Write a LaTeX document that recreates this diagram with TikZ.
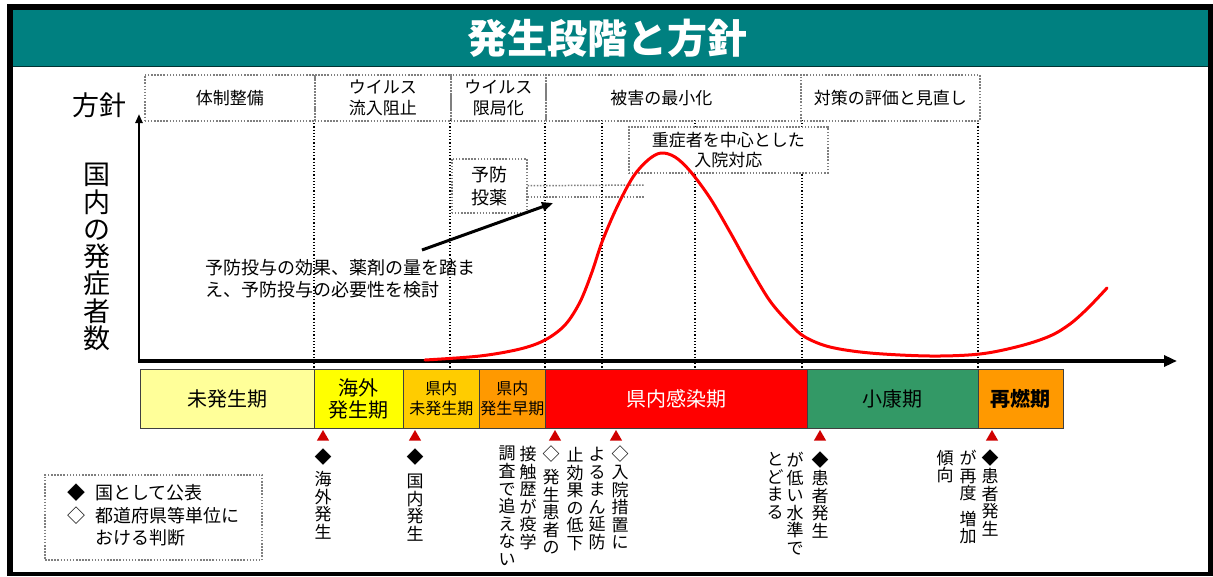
\documentclass[tikz,border=0pt]{standalone}
\usepackage{fontspec}
\setmainfont{Noto Sans CJK JP}
\usetikzlibrary{arrows.meta,shapes.geometric}
\definecolor{tealbar}{HTML}{008080}
\definecolor{phA}{HTML}{FFFF99}
\definecolor{phB}{HTML}{FFFF00}
\definecolor{phC}{HTML}{FFCC00}
\definecolor{phD}{HTML}{FF9900}
\definecolor{phE}{HTML}{FF0000}
\definecolor{phF}{HTML}{339966}
\definecolor{tricol}{HTML}{D00000}
\definecolor{dotgray}{HTML}{7F7F7F}
\begin{document}
\begin{tikzpicture}[x=1pt,y=-1pt,
  dotb/.style={draw=dotgray, dash pattern=on 1.5pt off 1.6pt, line width=1.5},
  pbox/.style={dotb, minimum height=46, inner sep=0, anchor=north west, align=center, font=\fontsize{17}{21}\selectfont},
  phase/.style={draw=black!75, line width=0.8, minimum height=59, inner sep=0, anchor=north west, align=center},
  vline/.style={black, dash pattern=on 1.2pt off 2pt, line width=1.1},
  vtext/.style={anchor=north, inner sep=0, align=center, font=\fontsize{17}{17.6}\selectfont},
  tri/.style={regular polygon, regular polygon sides=3, fill=tricol, minimum size=14, inner sep=0}]
\useasboundingbox (0,0) rectangle (1213,576);
% frame
\fill[black] (7,4) rectangle (1213,576);
\fill[white] (13,10) rectangle (1208,572);
\fill[tealbar] (13,10) rectangle (1208,66);
\draw[black!60!tealbar, line width=1] (13,66) -- (1208,66);
\node[text=white, font=\fontsize{40}{44}\selectfont\bfseries] (title) at (607,38) {発生段階と方針};
% vertical dotted lines
\foreach \vx in {314,450,545,602,695,802,978} {
  \draw[vline] (\vx,120) -- (\vx,368);
}
% policy row
\node[pbox, minimum width=170] (p1) at (144,74) {体制整備};
\node[pbox, minimum width=136] (p2) at (314,74) {ウイルス\\流入阻止};
\node[pbox, minimum width=95] (p3) at (450,74) {ウイルス\\限局化};
\node[pbox, minimum width=255] (p4) at (545,74) {被害の最小化\hspace{24pt}};
\node[pbox, minimum width=179] (p5) at (800,74) {対策の評価と見直し};
\node[font=\fontsize{27}{30}\selectfont, inner sep=0] (hoshin) at (99,105) {方針};
% axes
\coordinate (org) at (139,361);
\coordinate (ytop) at (139,114);
\coordinate (xend) at (1177,361);
\draw[line width=2.5, -{Triangle[length=9pt,width=7pt]}] (org) -- (ytop);
\draw[line width=3.2, -{Triangle[length=13pt,width=11pt]}] ([xshift=-1.2pt]org) -- (xend);
\node[align=center, inner sep=0, font=\fontsize{27}{27.3}\selectfont] (ylab) at (97,257) {国\\内\\の\\発\\症\\者\\数};
% severe box
\node[pbox, fill=white, minimum width=199, minimum height=46, font=\fontsize{17}{20}\selectfont] (severe) at (628,126) {重症者を中心とした\\入院対応};
% prophylaxis box
\node[pbox, fill=white, minimum width=75, minimum height=54, font=\fontsize{18}{23}\selectfont] (yobo) at (451,158) {予防\\投薬};
\coordinate (yl1) at (645,185);
\coordinate (yl2) at (645,197);
\draw[dotb] (yobo.east) -- (yl1);
\draw[dotb] (yobo.east |- yl2) -- (yl2);
% red curve
\draw[red, line width=3, line cap=round] plot[smooth, tension=0.55] coordinates {
 (425,360) (480,356) (520,349) (545,340) (565,325) (580,302) (592,272) (602,242) (617,207) (633,177) (648,160) (661,153) (675,157) (690,171) (710,198) (730,232) (750,268) (770,301) (790,324) (805,337) (830,347) (870,353) (930,356) (980,354) (1020,346) (1050,336) (1070,324) (1088,308) (1107,288)};
% note and arrow
\node[anchor=west, align=left, inner sep=0, font=\fontsize{18}{22}\selectfont] (note) at (205,279) {予防投与の効果、薬剤の量を踏ま\\え、予防投与の必要性を検討};
\coordinate (arrS) at (422,250);
\coordinate (arrE) at (553,203);
\draw[line width=3, -{Triangle[length=11pt,width=9pt]}] (arrS) -- (arrE);
% phase bar
\node[phase, fill=phA, minimum width=174, font=\fontsize{20}{24}\selectfont] (ph1) at (140,369) {未発生期};
\node[phase, fill=phB, minimum width=89, font=\fontsize{20}{22}\selectfont] (ph2) at (314,369) {海外\\発生期};
\node[phase, fill=phC, minimum width=76, font=\fontsize{16}{20}\selectfont] (ph3) at (403,369) {県内\\未発生期};
\node[phase, fill=phD, minimum width=66, font=\fontsize{16}{20}\selectfont] (ph4) at (479,369) {県内\\発生早期};
\node[phase, fill=phE, minimum width=262, text=white, font=\fontsize{20}{24}\selectfont] (ph5) at (545,369) {県内感染期};
\node[phase, fill=phF, minimum width=171, font=\fontsize{20}{24}\selectfont] (ph6) at (807,369) {小康期};
\node[phase, fill=phD, minimum width=85, font=\fontsize{20}{24}\selectfont\bfseries] (ph7) at (978,369) {再燃期};
% triangles
\node[tri] (t1) at (323,437) {};
\node[tri] (t2) at (415,437) {};
\node[tri] (t3) at (555,437) {};
\node[tri] (t4) at (616,437) {};
\node[tri] (t5) at (820,437) {};
\node[tri] (t6) at (992,437) {};
% vertical texts
\node[vtext] (c1) at (323,449) {◆\\[4pt]海\\外\\発\\生};
\node[vtext] (c2) at (415,449) {◆\\[6pt]国\\内\\発\\生};
\node[vtext] (c3) at (620,446) {◇\\入\\院\\措\\置\\に};
\node[vtext] (c4) at (597,447) {よ\\る\\ま\\ん\\延\\防};
\node[vtext] (c5) at (575,447) {止\\効\\果\\の\\低\\下};
\node[vtext] (c6) at (551,446) {◇\\[5pt]発\\生\\患\\者\\の};
\node[vtext] (c7) at (528,446) {接\\触\\歴\\が\\疫\\学};
\node[vtext] (c8) at (507,446) {調\\査\\で\\追\\え\\な\\い};
\node[vtext] (c9) at (820,452) {◆\\患\\者\\発\\生};
\node[vtext] (c10) at (795,452) {が\\低\\い\\水\\準\\で};
\node[vtext] (c11) at (775,452) {と\\ど\\ま\\る};
\node[vtext] (c12) at (990,450) {◆\\患\\者\\発\\生};
\node[vtext] (c13) at (968,450) {が\\再\\度\\[8pt]増\\加};
\node[vtext] (c14) at (945,450) {傾\\向};
% legend
\node[dotb, minimum width=217, minimum height=85, inner sep=0, font=\fontsize{18}{22.5}\selectfont] (legend) at (153.5,517.5)
  {\begin{tabular}{@{}l@{\hspace{10pt}}l@{}}◆ & 国として公表\\ ◇ & 都道府県等単位に\\ & おける判断\end{tabular}};
\end{tikzpicture}
\end{document}
